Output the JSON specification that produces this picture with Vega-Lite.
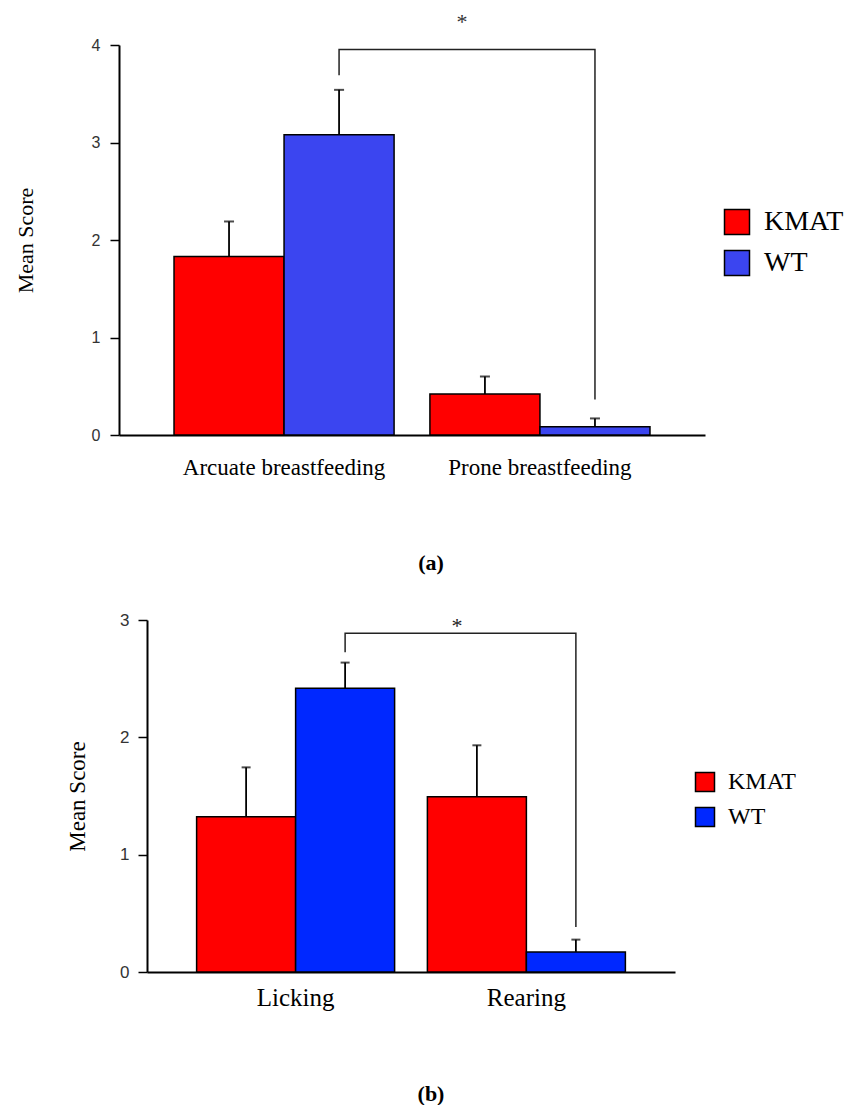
{
  "$schema": "https://vega.github.io/schema/vega-lite/v6.json",
  "padding": {"left": 14, "top": 10, "right": 0, "bottom": 0},
  "config": {"view": {"stroke": null}, "axis": {"grid": false}},
  "datasets": {
    "barsA": [
      {"cat": "Arcuate breastfeeding", "grp": "KMAT", "mean": 1.83, "upper": 2.19},
      {"cat": "Arcuate breastfeeding", "grp": "WT", "mean": 3.08, "upper": 3.54},
      {"cat": "Prone breastfeeding", "grp": "KMAT", "mean": 0.42, "upper": 0.6},
      {"cat": "Prone breastfeeding", "grp": "WT", "mean": 0.085, "upper": 0.17}
    ],
    "bracketA": [
      {"cat": "Arcuate breastfeeding", "grp": "WT", "v": 3.69, "o": 1},
      {"cat": "Arcuate breastfeeding", "grp": "WT", "v": 3.955, "o": 2},
      {"cat": "Prone breastfeeding", "grp": "WT", "v": 3.955, "o": 3},
      {"cat": "Prone breastfeeding", "grp": "WT", "v": 0.365, "o": 4}
    ],
    "starA": [{"cat": "Prone breastfeeding", "grp": "KMAT", "v": 4.24, "label": "*"}],
    "barsB": [
      {"cat": "Licking", "grp": "KMAT", "mean": 1.323, "upper": 1.744},
      {"cat": "Licking", "grp": "WT", "mean": 2.418, "upper": 2.637},
      {"cat": "Rearing", "grp": "KMAT", "mean": 1.493, "upper": 1.932},
      {"cat": "Rearing", "grp": "WT", "mean": 0.171, "upper": 0.276}
    ],
    "bracketB": [
      {"cat": "Licking", "grp": "WT", "v": 2.725, "o": 1},
      {"cat": "Licking", "grp": "WT", "v": 2.887, "o": 2},
      {"cat": "Rearing", "grp": "WT", "v": 2.887, "o": 3},
      {"cat": "Rearing", "grp": "WT", "v": 0.384, "o": 4}
    ],
    "starB": [{"cat": "Rearing", "grp": "KMAT", "v": 2.95, "label": "*"}]
  },
  "resolve": {
    "scale": {"x": "independent", "y": "independent", "xOffset": "independent", "color": "independent"},
    "legend": {"color": "independent"}
  },
  "bounds": "flush",
  "spacing": 185,
  "vconcat": [
    {
      "width": 586,
      "height": 390,
      "title": {"text": "(a)", "orient": "bottom", "font": "Liberation Serif", "fontSize": 22, "fontWeight": "bold", "color": "black", "dx": 19, "offset": 74},
      "encoding": {
        "x": {"field": "cat", "type": "nominal", "sort": ["Arcuate breastfeeding", "Prone breastfeeding"],
              "scale": {"paddingInner": 0.14, "paddingOuter": 0.215},
              "axis": {"ticks": false, "domainColor": "black", "domainWidth": 2, "labelFont": "Liberation Serif", "labelFontSize": 23, "labelColor": "black", "labelPadding": 21, "labelAngle": 0, "labelLimit": 0, "title": null}},
        "xOffset": {"field": "grp", "type": "nominal", "sort": ["KMAT", "WT"], "scale": {"paddingInner": 0, "paddingOuter": 0}}
      },
      "layer": [
        {
          "data": {"name": "barsA"},
          "mark": {"type": "bar", "stroke": "black", "strokeWidth": 1.5},
          "encoding": {
            "y": {"field": "mean", "type": "quantitative", "scale": {"domain": [0, 4], "nice": false}, "title": "Mean Score",
                  "axis": {"values": [0, 0.25, 0.5, 0.75, 1, 1.25, 1.5, 1.75, 2, 2.25, 2.5, 2.75, 3, 3.25, 3.5, 3.75, 4],
                           "format": "d",
                           "labelExpr": "datum.value % 1 === 0 ? datum.label : ''",
                           "tickSize": {"condition": {"test": "datum.value % 1 === 0", "value": 9}, "value": 5},
                           "tickColor": "black", "tickWidth": 1.5, "domainColor": "black", "domainWidth": 2,
                           "labelFont": "Liberation Sans", "labelFontSize": 16, "labelColor": "#333", "labelPadding": 10, "labelFlush": false,
                           "titleFont": "Liberation Serif", "titleFontSize": 22, "titleFontWeight": "normal", "titleColor": "black", "titlePadding": 54}},
            "color": {"field": "grp", "type": "nominal", "scale": {"domain": ["KMAT", "WT"], "range": ["#ff0000", "#3b45f0"]},
                      "legend": {"orient": "none", "legendX": 604, "legendY": 163, "title": null, "padding": 0,
                                 "labelFont": "Liberation Serif", "labelFontSize": 28, "labelColor": "black",
                                 "symbolType": "square", "symbolSize": 625, "symbolStrokeColor": "black", "symbolStrokeWidth": 1.5, "symbolOpacity": 1,
                                 "rowPadding": 9, "labelOffset": 13}}
          }
        },
        {
          "data": {"name": "barsA"},
          "mark": {"type": "rule", "color": "black", "strokeWidth": 1.8},
          "encoding": {"y": {"field": "mean", "type": "quantitative"}, "y2": {"field": "upper"}}
        },
        {
          "data": {"name": "barsA"},
          "mark": {"type": "tick", "orient": "horizontal", "size": 10, "thickness": 2, "color": "black"},
          "encoding": {"y": {"field": "upper", "type": "quantitative"}}
        },
        {
          "data": {"name": "bracketA"},
          "mark": {"type": "line", "color": "#222", "strokeWidth": 1.5},
          "encoding": {"y": {"field": "v", "type": "quantitative"}, "order": {"field": "o", "type": "quantitative"}}
        },
        {
          "data": {"name": "starA"},
          "mark": {"type": "text", "font": "Liberation Serif", "fontSize": 22, "color": "#333", "dx": -23, "baseline": "middle"},
          "encoding": {"y": {"field": "v", "type": "quantitative"}, "text": {"field": "label"}}
        }
      ]
    },
    {
      "spacing": 0,
      "bounds": "flush",
      "resolve": {"scale": {"color": "independent"}, "legend": {"color": "independent"}},
      "hconcat": [
        {"width": 28, "height": 10, "data": {"values": []}, "mark": {"type": "point", "opacity": 0}},
        {
          "width": 528,
          "height": 352,
          "title": {"text": "(b)", "orient": "bottom", "font": "Liberation Serif", "fontSize": 22, "fontWeight": "bold", "color": "black", "dx": 20, "offset": 74},
          "encoding": {
            "x": {"field": "cat", "type": "nominal", "sort": ["Licking", "Rearing"],
                  "scale": {"paddingInner": 0.142, "paddingOuter": 0.215},
                  "axis": {"ticks": false, "domainColor": "black", "domainWidth": 2, "labelFont": "Liberation Serif", "labelFontSize": 25, "labelColor": "black", "labelPadding": 13, "labelAngle": 0, "labelLimit": 0, "title": null}},
            "xOffset": {"field": "grp", "type": "nominal", "sort": ["KMAT", "WT"], "scale": {"paddingInner": 0, "paddingOuter": 0}}
          },
          "layer": [
            {
              "data": {"name": "barsB"},
              "mark": {"type": "bar", "stroke": "black", "strokeWidth": 1.5},
              "encoding": {
                "y": {"field": "mean", "type": "quantitative", "scale": {"domain": [0, 3], "nice": false}, "title": "Mean Score",
                      "axis": {"values": [0, 0.25, 0.5, 0.75, 1, 1.25, 1.5, 1.75, 2, 2.25, 2.5, 2.75, 3],
                               "format": "d",
                               "labelExpr": "datum.value % 1 === 0 ? datum.label : ''",
                               "tickSize": {"condition": {"test": "datum.value % 1 === 0", "value": 9}, "value": 5},
                               "tickColor": "black", "tickWidth": 1.5, "domainColor": "black", "domainWidth": 2,
                               "labelFont": "Liberation Sans", "labelFontSize": 17, "labelColor": "#333", "labelPadding": 9, "labelFlush": false,
                               "titleFont": "Liberation Serif", "titleFontSize": 23, "titleFontWeight": "normal", "titleColor": "black", "titlePadding": 30}},
                "color": {"field": "grp", "type": "nominal", "scale": {"domain": ["KMAT", "WT"], "range": ["#ff0000", "#0028ff"]},
                          "legend": {"orient": "none", "legendX": 546, "legendY": 150, "title": null, "padding": 0,
                                     "labelFont": "Liberation Serif", "labelFontSize": 24, "labelColor": "black",
                                     "symbolType": "square", "symbolSize": 361, "symbolStrokeColor": "black", "symbolStrokeWidth": 1.5, "symbolOpacity": 1,
                                     "rowPadding": 9, "labelOffset": 11}}
              }
            },
            {
              "data": {"name": "barsB"},
              "mark": {"type": "rule", "color": "black", "strokeWidth": 1.8},
              "encoding": {"y": {"field": "mean", "type": "quantitative"}, "y2": {"field": "upper"}}
            },
            {
              "data": {"name": "barsB"},
              "mark": {"type": "tick", "orient": "horizontal", "size": 9, "thickness": 2, "color": "black"},
              "encoding": {"y": {"field": "upper", "type": "quantitative"}}
            },
            {
              "data": {"name": "bracketB"},
              "mark": {"type": "line", "color": "#222", "strokeWidth": 1.5},
              "encoding": {"y": {"field": "v", "type": "quantitative"}, "order": {"field": "o", "type": "quantitative"}}
            },
            {
              "data": {"name": "starB"},
              "mark": {"type": "text", "font": "Liberation Serif", "fontSize": 22, "color": "#222", "dx": -20, "baseline": "middle"},
              "encoding": {"y": {"field": "v", "type": "quantitative"}, "text": {"field": "label"}}
            }
          ]
        }
      ]
    }
  ]
}
